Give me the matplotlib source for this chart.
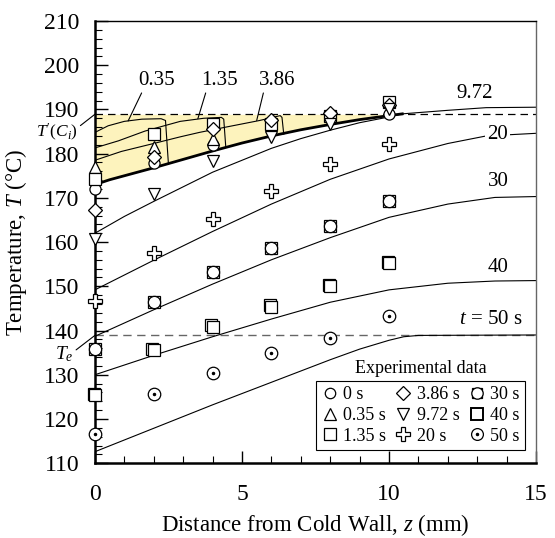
import numpy as np
import matplotlib
matplotlib.use("Agg")
import matplotlib.pyplot as plt
import matplotlib.transforms as mtransforms
from matplotlib.lines import Line2D

plt.rcParams['font.family'] = ['Liberation Serif', 'DejaVu Serif']
plt.rcParams['mathtext.fontset'] = 'custom'
plt.rcParams['mathtext.rm'] = 'Liberation Serif'
plt.rcParams['mathtext.it'] = 'Liberation Serif:italic'

# reference levels
T_ci = 188.9
T_e = 138.9

# simulated profiles, z (mm) -> T (C)
z_035 = [0, 0.45, 1.0, 1.6, 2.25, 2.4, 2.5]
T_035 = [184.8, 186.3, 187.3, 187.8, 187.9, 187.5, 177.6]
z_135 = [0, 0.8, 1.7, 2.9, 3.7, 4.3, 4.38, 4.45]
T_135 = [181.3, 182.9, 185.1, 187.3, 188.0, 188.2, 187.8, 181.4]
z_386 = [0, 0.9, 2.0, 2.9, 3.55, 4.45, 5.6, 6.3, 6.36, 6.42]
T_386 = [178.5, 180.5, 182.3, 183.8, 184.8, 186.0, 187.5, 188.6, 188.2, 184.4]
z_front = [0, 0.5, 1, 2, 3, 4, 5, 6, 7, 8, 9, 10, 10.45]
T_front = [173.0, 174.1, 175.0, 176.8, 178.7, 180.6, 182.4, 184.0, 185.4, 186.6, 187.7, 188.6, 189.0]
z_972 = [0, 1, 2, 3, 4, 5, 6, 7, 8, 9, 10, 10.45, 12, 13.3, 15]
T_972 = [162.0, 165.8, 169.2, 172.5, 175.8, 178.5, 181.2, 183.4, 185.3, 187.0, 188.3, 189.0, 189.8, 190.4, 190.5]
z_20 = [0, 2, 4, 6, 8, 10, 12, 13.3, 15]
T_20 = [149.2, 155.9, 162.4, 168.6, 174.2, 178.8, 182.3, 184.0, 184.6]
z_30 = [0, 2, 4, 6, 8, 10, 12, 13.6, 15]
T_30 = [138.7, 144.7, 150.5, 156.0, 161.0, 165.6, 168.6, 170.1, 170.3]
z_40 = [0, 2, 4, 6, 8, 10, 12, 13.6, 15]
T_40 = [130.0, 134.4, 138.6, 142.6, 146.4, 149.2, 150.7, 151.2, 151.3]
z_50 = [0, 2, 4, 6, 8, 9, 10, 10.5, 11, 15]
T_50 = [112.6, 117.9, 123.2, 128.3, 133.4, 135.8, 137.8, 138.6, 138.9, 139.0]

# experimental data
nan = np.nan
z_exp = [0, 2, 4, 6, 8, 10]
exp_0 = [172.0, 177.8, 182.0, nan, 188.3, 188.9]
exp_035 = [177.0, 181.5, 183.4, nan, nan, nan]
exp_135 = [174.3, 184.4, 186.7, 186.6, 188.5, 191.7]
exp_386 = [167.2, 179.2, 185.6, 187.6, 189.1, 191.0]
exp_972 = [160.7, 170.8, 178.3, 183.7, 186.7, 190.0]
exp_20 = [146.6, 157.5, 165.3, 171.5, 177.6, 182.1]
exp_30 = [135.8, 146.4, 153.2, 158.7, 163.6, 169.2]
exp_40 = [125.4, 135.6, 140.9, 145.4, 150.0, 155.2]
exp_50 = [116.7, 125.6, 130.5, 134.9, 138.3, 143.4]

fig = plt.figure(figsize=(5.55, 5.38), dpi=100)
ax = fig.add_axes([0.171, 0.139, 0.795, 0.822])

ax.set_xlim(0, 15)
ax.set_ylim(110, 210)

# shaded zone
ax.fill_between(z_front, T_front, T_ci, color='#fdf3bd', lw=0, zorder=0)
ax.axhline(T_ci, color='k', ls=(0, (6, 4)), lw=0.9, zorder=1)
ax.axhline(T_e, color='#666666', ls=(0, (6, 4)), lw=1.0, zorder=1)

thin = dict(color='k', lw=0.8, zorder=2)
for zz, tt in [(z_035, T_035), (z_135, T_135), (z_386, T_386), (z_972, T_972),
               (z_20, T_20), (z_30, T_30), (z_40, T_40), (z_50, T_50)]:
    ax.plot(zz, tt, **thin)
ax.plot(z_front, T_front, color='k', lw=2.0, zorder=2)

# markers
mk = dict(ls='none', mfc='white', mec='k', mew=0.9, zorder=4, clip_on=False)
ax.plot(z_exp, exp_0, marker='o', ms=8, **mk)
ax.plot(z_exp, exp_035, marker='^', ms=9, **mk)
ax.plot(z_exp, exp_135, marker='s', ms=9, **mk)
ax.plot(z_exp, exp_386, marker='D', ms=7.5, **mk)
ax.plot(z_exp, exp_972, marker='v', ms=9, **mk)
ax.plot(z_exp, exp_20, marker='P', ms=10, **mk)
ax.plot(z_exp, exp_30, marker='s', ms=8, **mk)
ax.plot(z_exp, exp_30, marker='o', ms=8.8, **mk)
shadow = mtransforms.offset_copy(ax.transData, fig=fig, x=-1.0, y=1.0, units='points')
ax.plot(z_exp, exp_40, marker='s', ms=9, transform=shadow, **mk)
ax.plot(z_exp, exp_40, marker='s', ms=9, **mk)
ax.plot(z_exp, exp_50, marker='o', ms=9, **mk)
ax.plot(z_exp, exp_50, marker='.', ms=3, ls='none', color='k', zorder=5, clip_on=False)

# curve labels
fs = 15
lead = dict(arrowstyle='-', lw=0.8, color='k', shrinkA=0, shrinkB=0)
ax.annotate('0.35', xy=(1.13, 187.4), xytext=(2.1, 196.5), ha='center', va='center',
            fontsize=fs, arrowprops=dict(relpos=(0.15, 0.1), **lead))
ax.annotate('1.35', xy=(3.5, 187.9), xytext=(4.25, 196.5), ha='center', va='center',
            fontsize=fs, arrowprops=dict(relpos=(0.15, 0.1), **lead))
ax.annotate('3.86', xy=(5.5, 187.5), xytext=(6.2, 196.5), ha='center', va='center',
            fontsize=fs, arrowprops=dict(relpos=(0.15, 0.1), **lead))
ax.text(12.9, 193.6, '9.72', ha='center', va='center', fontsize=fs)
ax.text(13.7, 184.3, '20', ha='center', va='center', fontsize=fs,
        bbox=dict(fc='white', ec='none', pad=1.5), zorder=3)
ax.text(13.7, 173.6, '30', ha='center', va='center', fontsize=fs)
ax.text(13.7, 154.3, '40', ha='center', va='center', fontsize=fs)
ax.text(13.45, 142.4, '$t$ = 50 s', ha='center', va='center', fontsize=fs)

ax.annotate("$T'(C_i)$", xy=(0, T_ci), xytext=(-1.3, 184.9), ha='center', va='center',
            fontsize=12.5, annotation_clip=False,
            arrowprops=dict(relpos=(1.0, 0.7), **lead))
ax.annotate("$T_e$", xy=(0, T_e), xytext=(-1.05, 134.7), ha='center', va='center',
            fontsize=14, annotation_clip=False,
            arrowprops=dict(relpos=(1.0, 0.6), **lead))

# axes styling
ax.set_xticks([0, 5, 10, 15])
ax.set_yticks(np.arange(110, 211, 10))
ax.set_xticks(np.arange(0, 16, 1), minor=True)
ax.set_yticks(np.arange(110, 211, 2), minor=True)
ax.tick_params(which='both', direction='in', top=False, right=False, labelsize=17)
ax.tick_params(axis='y', which='major', length=9, width=1.0, pad=11)
ax.tick_params(axis='x', which='major', length=9, width=1.0, pad=15)
ax.tick_params(which='minor', length=5, width=0.8)
for s in ['left', 'bottom']:
    ax.spines[s].set_linewidth(1.8)
ax.spines['top'].set_linewidth(1.0)
ax.spines['right'].set_linewidth(1.0)
ax.spines['right'].set_color('#666666')

ax.set_xlabel('Distance from Cold Wall, $z$ (mm)', fontsize=16.5, labelpad=5)
ax.set_ylabel('Temperature, $T$ (\u00b0C)', fontsize=16.5, labelpad=11)

# legend
hk = dict(ls='none', mfc='white', mec='k', mew=0.9)
handles = [
    Line2D([], [], marker='o', ms=7.5, **hk),
    Line2D([], [], marker='^', ms=8.5, **hk),
    Line2D([], [], marker='s', ms=8.5, **hk),
    Line2D([], [], marker='D', ms=7, **hk),
    Line2D([], [], marker='v', ms=8.5, **hk),
    Line2D([], [], marker='P', ms=9.5, **hk),
    (Line2D([], [], marker='s', ms=7.5, **hk), Line2D([], [], marker='o', ms=8.2, **hk)),
    Line2D([], [], marker='s', ms=8.5, ls='none', mfc='white', mec='k', mew=1.4),
    (Line2D([], [], marker='o', ms=8.5, **hk), Line2D([], [], marker='.', ms=3, ls='none', color='k')),
]
labels = ['0 s', '0.35 s', '1.35 s', '3.86 s', '9.72 s', '20 s', '30 s', '40 s', '50 s']
leg = ax.legend(handles, labels, ncol=3, loc='lower right', bbox_to_anchor=(0.975, 0.03),
                fontsize=13, frameon=True, fancybox=False, edgecolor='k', framealpha=1,
                borderpad=0.3, handlelength=0.9, handletextpad=0.3, columnspacing=0.5,
                labelspacing=0.2, borderaxespad=0)
leg.get_frame().set_linewidth(0.8)

fig.canvas.draw()
bb = leg.get_window_extent().transformed(ax.transAxes.inverted())
ax.text((bb.x0 + bb.x1) / 2, bb.y1 + 0.008, 'Experimental data', transform=ax.transAxes,
        ha='center', va='bottom', fontsize=13)

fig.savefig('out.png', dpi=100)
